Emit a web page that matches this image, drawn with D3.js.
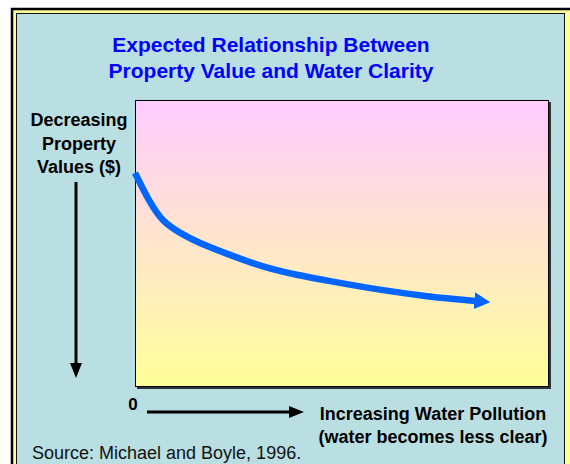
<!DOCTYPE html>
<html>
<head>
<meta charset="utf-8">
<script src="https://cdn.jsdelivr.net/npm/d3@7"></script>
<style>
  html, body { margin: 0; padding: 0; background: #fff; }
  svg { display: block; font-family: Arial, "Liberation Sans", sans-serif; }
</style>
</head>
<body>
<svg width="570" height="464"></svg>
<script>
// curve (x = water pollution, y = property value, 0..100)
const pollution = [0, 3.6, 6.7, 10.8, 14.9, 22.9, 30.8, 39, 47, 59, 71, 82];
const propValue = [74.6, 64.1, 57.5, 53.7, 50.5, 46, 41.8, 39, 36.9, 33.8, 31.4, 30];

const titleLines = ['Expected Relationship Between', 'Property Value and Water Clarity'];
const yLabelLines = ['Decreasing', 'Property', 'Values ($)'];
const xLabelLines = ['Increasing Water Pollution', '(water becomes less clear)'];
const sourceText = 'Source: Michael and Boyle, 1996.';

const plot = { left: 135, top: 100, right: 549, bottom: 387 };

const svg = d3.select('svg');

// outer frame
svg.append('rect')
    .attr('x', 12).attr('y', 9)
    .attr('width', 570).attr('height', 470)
    .attr('fill', '#ffff99')
    .attr('stroke', '#000')
    .attr('stroke-width', 2.5);
svg.append('rect')
    .attr('x', 16.5).attr('y', 13.5)
    .attr('width', 548).attr('height', 470)
    .attr('fill', '#b9dfe3')
    .attr('stroke', '#111')
    .attr('stroke-width', 1);

const defs = svg.append('defs');
const grad = defs.append('linearGradient')
    .attr('id', 'bg')
    .attr('x1', 0).attr('y1', 0)
    .attr('x2', 0).attr('y2', 1);
grad.append('stop').attr('offset', '0%').attr('stop-color', '#ffccff');
grad.append('stop').attr('offset', '100%').attr('stop-color', '#ffff99');

defs.append('marker')
    .attr('id', 'blueHead')
    .attr('markerUnits', 'userSpaceOnUse')
    .attr('viewBox', '0 -9 16 18')
    .attr('refX', 1).attr('refY', 0)
    .attr('markerWidth', 16).attr('markerHeight', 18)
    .attr('orient', 'auto')
    .append('path')
    .attr('d', 'M0,-8.5L16,0L0,8.5Z')
    .attr('fill', '#0066ff');

defs.append('marker')
    .attr('id', 'blackHead')
    .attr('markerUnits', 'userSpaceOnUse')
    .attr('viewBox', '0 -7 15 14')
    .attr('refX', 1).attr('refY', 0)
    .attr('markerWidth', 15).attr('markerHeight', 14)
    .attr('orient', 'auto')
    .append('path')
    .attr('d', 'M0,-6L15,0L0,6Z')
    .attr('fill', '#000');

// plot area with shadow
svg.append('rect')
    .attr('x', plot.left + 2).attr('y', plot.top + 2)
    .attr('width', plot.right - plot.left).attr('height', plot.bottom - plot.top)
    .attr('fill', '#333');
svg.append('rect')
    .attr('x', plot.left + 0.5).attr('y', plot.top + 0.5)
    .attr('width', plot.right - plot.left - 1).attr('height', plot.bottom - plot.top - 1)
    .attr('fill', 'url(#bg)')
    .attr('stroke', '#000')
    .attr('stroke-width', 1);

const x = d3.scaleLinear().domain([0, 100]).range([plot.left, plot.left + 415]);
const y = d3.scaleLinear().domain([0, 100]).range([plot.bottom, plot.top]);

const pts = pollution.map((p, i) => [p, propValue[i]]);
const line = d3.line()
    .x(d => x(d[0]))
    .y(d => y(d[1]))
    .curve(d3.curveBasis);

svg.append('path')
    .datum(pts)
    .attr('d', line)
    .attr('fill', 'none')
    .attr('stroke', '#0066ff')
    .attr('stroke-width', 6.5)
    .attr('marker-end', 'url(#blueHead)');

// title
svg.append('g')
    .selectAll('text')
    .data(titleLines)
    .join('text')
    .attr('x', 271)
    .attr('y', (d, i) => 52 + i * 25.5)
    .attr('text-anchor', 'middle')
    .attr('font-size', 21)
    .attr('font-weight', 'bold')
    .attr('fill', '#0000ff')
    .text(d => d);

// y label + arrow
svg.append('g')
    .selectAll('text')
    .data(yLabelLines)
    .join('text')
    .attr('x', 79)
    .attr('y', (d, i) => 126 + i * 23.5)
    .attr('text-anchor', 'middle')
    .attr('font-size', 18)
    .attr('font-weight', 'bold')
    .attr('fill', '#000')
    .text(d => d);

svg.append('line')
    .attr('x1', 76).attr('y1', 182)
    .attr('x2', 76).attr('y2', 364)
    .attr('stroke', '#000')
    .attr('stroke-width', 3)
    .attr('marker-end', 'url(#blackHead)');

// x label + arrow
svg.append('text')
    .attr('x', x(0) - 2)
    .attr('y', 410)
    .attr('text-anchor', 'middle')
    .attr('font-size', 17)
    .attr('font-weight', 'bold')
    .text('0');

svg.append('line')
    .attr('x1', 147).attr('y1', 412)
    .attr('x2', 290).attr('y2', 412)
    .attr('stroke', '#000')
    .attr('stroke-width', 3)
    .attr('marker-end', 'url(#blackHead)');

svg.append('g')
    .selectAll('text')
    .data(xLabelLines)
    .join('text')
    .attr('x', 433)
    .attr('y', (d, i) => 420 + i * 23)
    .attr('text-anchor', 'middle')
    .attr('font-size', 18)
    .attr('font-weight', 'bold')
    .text(d => d);

svg.append('text')
    .attr('x', 32)
    .attr('y', 459)
    .attr('font-size', 18)
    .attr('fill', '#111')
    .text(sourceText);
</script>
</body>
</html>
